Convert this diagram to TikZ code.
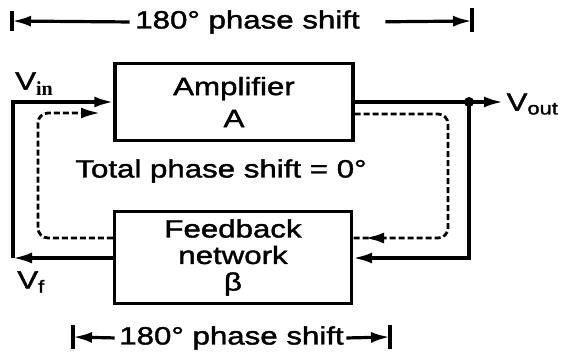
\documentclass[tikz,border=0pt]{standalone}
\usepackage{fontspec}
\setmainfont{Liberation Sans}[FakeStretch=1.25,FakeBold=1.6]
\newfontfamily\serifb{Liberation Serif}
\usetikzlibrary{arrows.meta,calc}
\begin{document}
\begin{tikzpicture}[x=1bp,y=-1bp, line width=3.2bp,
  box/.style={draw, line width=3.2bp, inner sep=0pt, align=center, font=\fontsize{25bp}{32bp}\selectfont},
  lbl/.style={font=\fontsize{25bp}{30bp}\selectfont, inner sep=0pt},
  tip/.style={-{Latex[length=19bp,width=11bp]}},
  dsh/.style={line width=2.8bp, dash pattern=on 6bp off 3bp, rounded corners=10bp}]
\useasboundingbox (0,0) rectangle (561,353);
% boxes
\node[box, minimum width=238bp, minimum height=77bp] (amp) at (234,102) {Amplifier\\A};
\node[box, minimum width=237bp, minimum height=92bp, font=\fontsize{25bp}{26.5bp}\selectfont] (fb) at (233,257.5) {Feedback\\network\\β};
% solid loop
\coordinate (vinL) at (13,102);
\coordinate (vfL) at (13,258);
\coordinate (jn) at (469,102);
\coordinate (outT) at (503,102);
\coordinate (fbR) at (469,258);
\draw[tip] (fb.west |- vfL) -- (vfL);
\draw[tip] (vfL) -- (vinL) -- (amp.west |- vinL);
\draw (amp.east |- jn) -- (jn);
\draw[tip] (jn) -- (outT);
\draw[tip] (jn) -- (fbR) -- (fb.east |- fbR);
\fill (jn) circle (5bp);
% dashed loop
\coordinate (dTR) at (448,114);
\coordinate (dBR) at (448,238);
\coordinate (dArrR) at (365,238);
\coordinate (dBL) at (38,238);
\coordinate (dTL) at (38,113);
\coordinate (dIn) at (100,113);
\draw[dsh] (amp.east |- dTR) -- (dTR) -- (dBR) -- (fb.east |- dBR);
\draw[tip] ($(dArrR)+(12,0)$) -- (dArrR);
\draw[dsh,tip] (fb.west |- dBL) -- (dBL) -- (dTL) -- (dIn);
% labels
\node[lbl] (vin) at (34,84) {V\raisebox{-6bp}{\fontsize{20bp}{20bp}\serifb\bfseries in}};
\node[lbl, anchor=west] (vout) at (505,104) {V\textsubscript{out}};
\node[lbl] (vf) at (31,282) {V\textsubscript{f}};
\node[lbl] (tot) at (221,171) {Total phase shift = 0°};
% top dimension
\node[lbl] (top) at (247.5,22) {180° phase shift};
\coordinate (tL) at (12,21);
\coordinate (tR) at (472,21);
\draw[tip, shorten <=4bp] (top.west) -- (tL);
\draw[tip, shorten <=24bp] (top.east) -- (tR);
\draw ([yshift=-10bp]tL) -- ([yshift=10bp]tL);
\draw ([yshift=-11bp]tR) -- ([yshift=13bp]tR);
% bottom dimension
\node[lbl] (bot) at (231.5,338) {180° phase shift};
\coordinate (bL) at (73,337);
\coordinate (bR) at (390,337);
\draw[tip, shorten <=3bp] (bot.west) -- (bL);
\draw[tip, shorten <=1bp] (bot.east) -- (bR);
\draw ([yshift=-12bp]bL) -- ([yshift=12bp]bL);
\draw ([yshift=-12bp]bR) -- ([yshift=12bp]bR);
\end{tikzpicture}
\end{document}
